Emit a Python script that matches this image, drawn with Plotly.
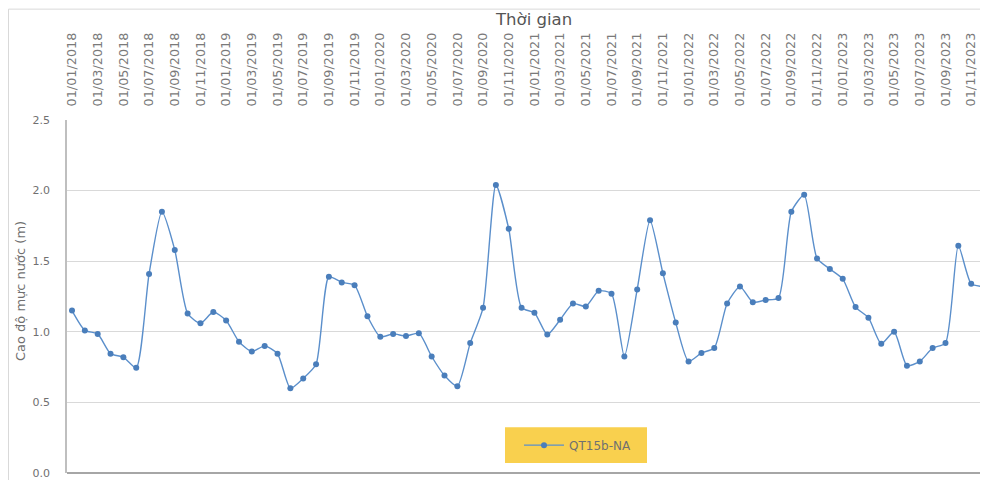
import plotly.graph_objects as go

# ---- data ----
years = [2018, 2019, 2020, 2021, 2022, 2023]
months = list(range(1, 13))
dates = [f"01/{m:02d}/{y}" for y in years for m in months]

water_level = [
    1.15, 1.01, 0.985, 0.845, 0.82, 0.745, 1.41, 1.85, 1.58, 1.13, 1.06, 1.14,   # 2018
    1.08, 0.93, 0.86, 0.90, 0.845, 0.60, 0.67, 0.77, 1.39, 1.35, 1.33, 1.11,     # 2019
    0.965, 0.985, 0.97, 0.99, 0.825, 0.69, 0.615, 0.92, 1.17, 2.04, 1.73, 1.17,  # 2020
    1.135, 0.98, 1.085, 1.20, 1.18, 1.29, 1.27, 0.825, 1.30, 1.79, 1.415, 1.065, # 2021
    0.79, 0.85, 0.885, 1.20, 1.32, 1.21, 1.225, 1.24, 1.85, 1.97, 1.52, 1.445,   # 2022
    1.375, 1.175, 1.10, 0.915, 1.00, 0.76, 0.79, 0.885, 0.92, 1.61, 1.34, 1.32,  # 2023
]
tick_labels = dates[::2]
series_name = "QT15b-NA"
x_title = "Thời gian"
y_title = "Cao độ mực nước (m)"
y_ticks = [0.0, 0.5, 1.0, 1.5, 2.0, 2.5]

# ---- layout geometry (screen pixels; page body has an 8px margin) ----
OFF = 8
SW, SH = 988, 480
W, H = SW - OFF, SH - OFF
# plot area on screen: left 67, top 120, bottom 475, right 988
L = 67 - OFF
T = 120 - OFF
B = SH - 475
R = 0
PW = W - L - R
PH = H - T - B

def px_x(p):
    """screen x pixel -> paper x"""
    return (p - OFF - L) / PW

def px_y(p):
    """screen y pixel -> paper y"""
    return (H - B - (p - OFF)) / PH

fig = go.Figure()
fig.add_trace(go.Scatter(
    x=dates, y=water_level, name=series_name, mode="lines+markers",
    line=dict(color="#5B8FCB", width=1.4, shape="spline", smoothing=0.6),
    marker=dict(color="#4A7EBB", size=6, symbol="circle"),
))

grey = "#707070"
fig.update_layout(
    width=W, height=H,
    margin=dict(l=L, r=R, t=T, b=B, pad=0),
    paper_bgcolor="white", plot_bgcolor="white",
    font=dict(family="DejaVu Sans", color=grey),
    showlegend=True,
    legend=dict(
        x=px_x(519), y=px_y(447), xanchor="left", yanchor="middle",
        bgcolor="rgba(0,0,0,0)", borderwidth=0,
        font=dict(size=12, color=grey, family="DejaVu Sans"),
        itemwidth=40,
    ),
    xaxis=dict(
        type="category", side="top",
        categoryorder="array", categoryarray=dates,
        range=[-0.389, 71.31],
        tickmode="array", tickvals=tick_labels, ticktext=tick_labels,
        tickangle=-90, tickfont=dict(size=12.8, color="#7A7A7A"),
        ticks="outside", ticklen=10, tickcolor="rgba(0,0,0,0)",
        showgrid=False, showline=False, zeroline=False,
    ),
    yaxis=dict(
        range=[0, 2.5], tickvals=y_ticks,
        ticktext=[f"{v:.1f}" for v in y_ticks],
        tickfont=dict(size=11, color=grey),
        ticklabeloverflow="allow",
        ticks="outside", ticklen=13, tickcolor="rgba(0,0,0,0)",
        showgrid=True, gridcolor="#D9D9D9", gridwidth=1,
        showline=True, linecolor="#BFBFBF", linewidth=1.5,
        zeroline=True, zerolinecolor="#A6A6A6", zerolinewidth=2,
    ),
    shapes=[
        # outer chart frame
        dict(type="rect", xref="paper", yref="paper",
             x0=px_x(8.5), x1=1.2, y0=-0.2, y1=px_y(8.5),
             line=dict(color="#D9D9D9", width=1), fillcolor="rgba(0,0,0,0)", layer="below"),
        # legend box
        dict(type="rect", xref="paper", yref="paper",
             x0=px_x(505), x1=px_x(647), y0=px_y(465), y1=px_y(429),
             line=dict(width=0), fillcolor="#F9D04E", layer="below"),
    ],
    annotations=[
        dict(text=x_title, xref="paper", yref="paper", x=px_x(533), y=px_y(19),
             xanchor="center", yanchor="middle", showarrow=False,
             font=dict(size=16.5, color="#555555")),
        dict(text=y_title, xref="paper", yref="paper", x=px_x(20), y=px_y(292),
             xanchor="center", yanchor="middle", showarrow=False, textangle=-90,
             font=dict(size=13, color=grey)),
    ],
)

fig.write_html("out.html")
